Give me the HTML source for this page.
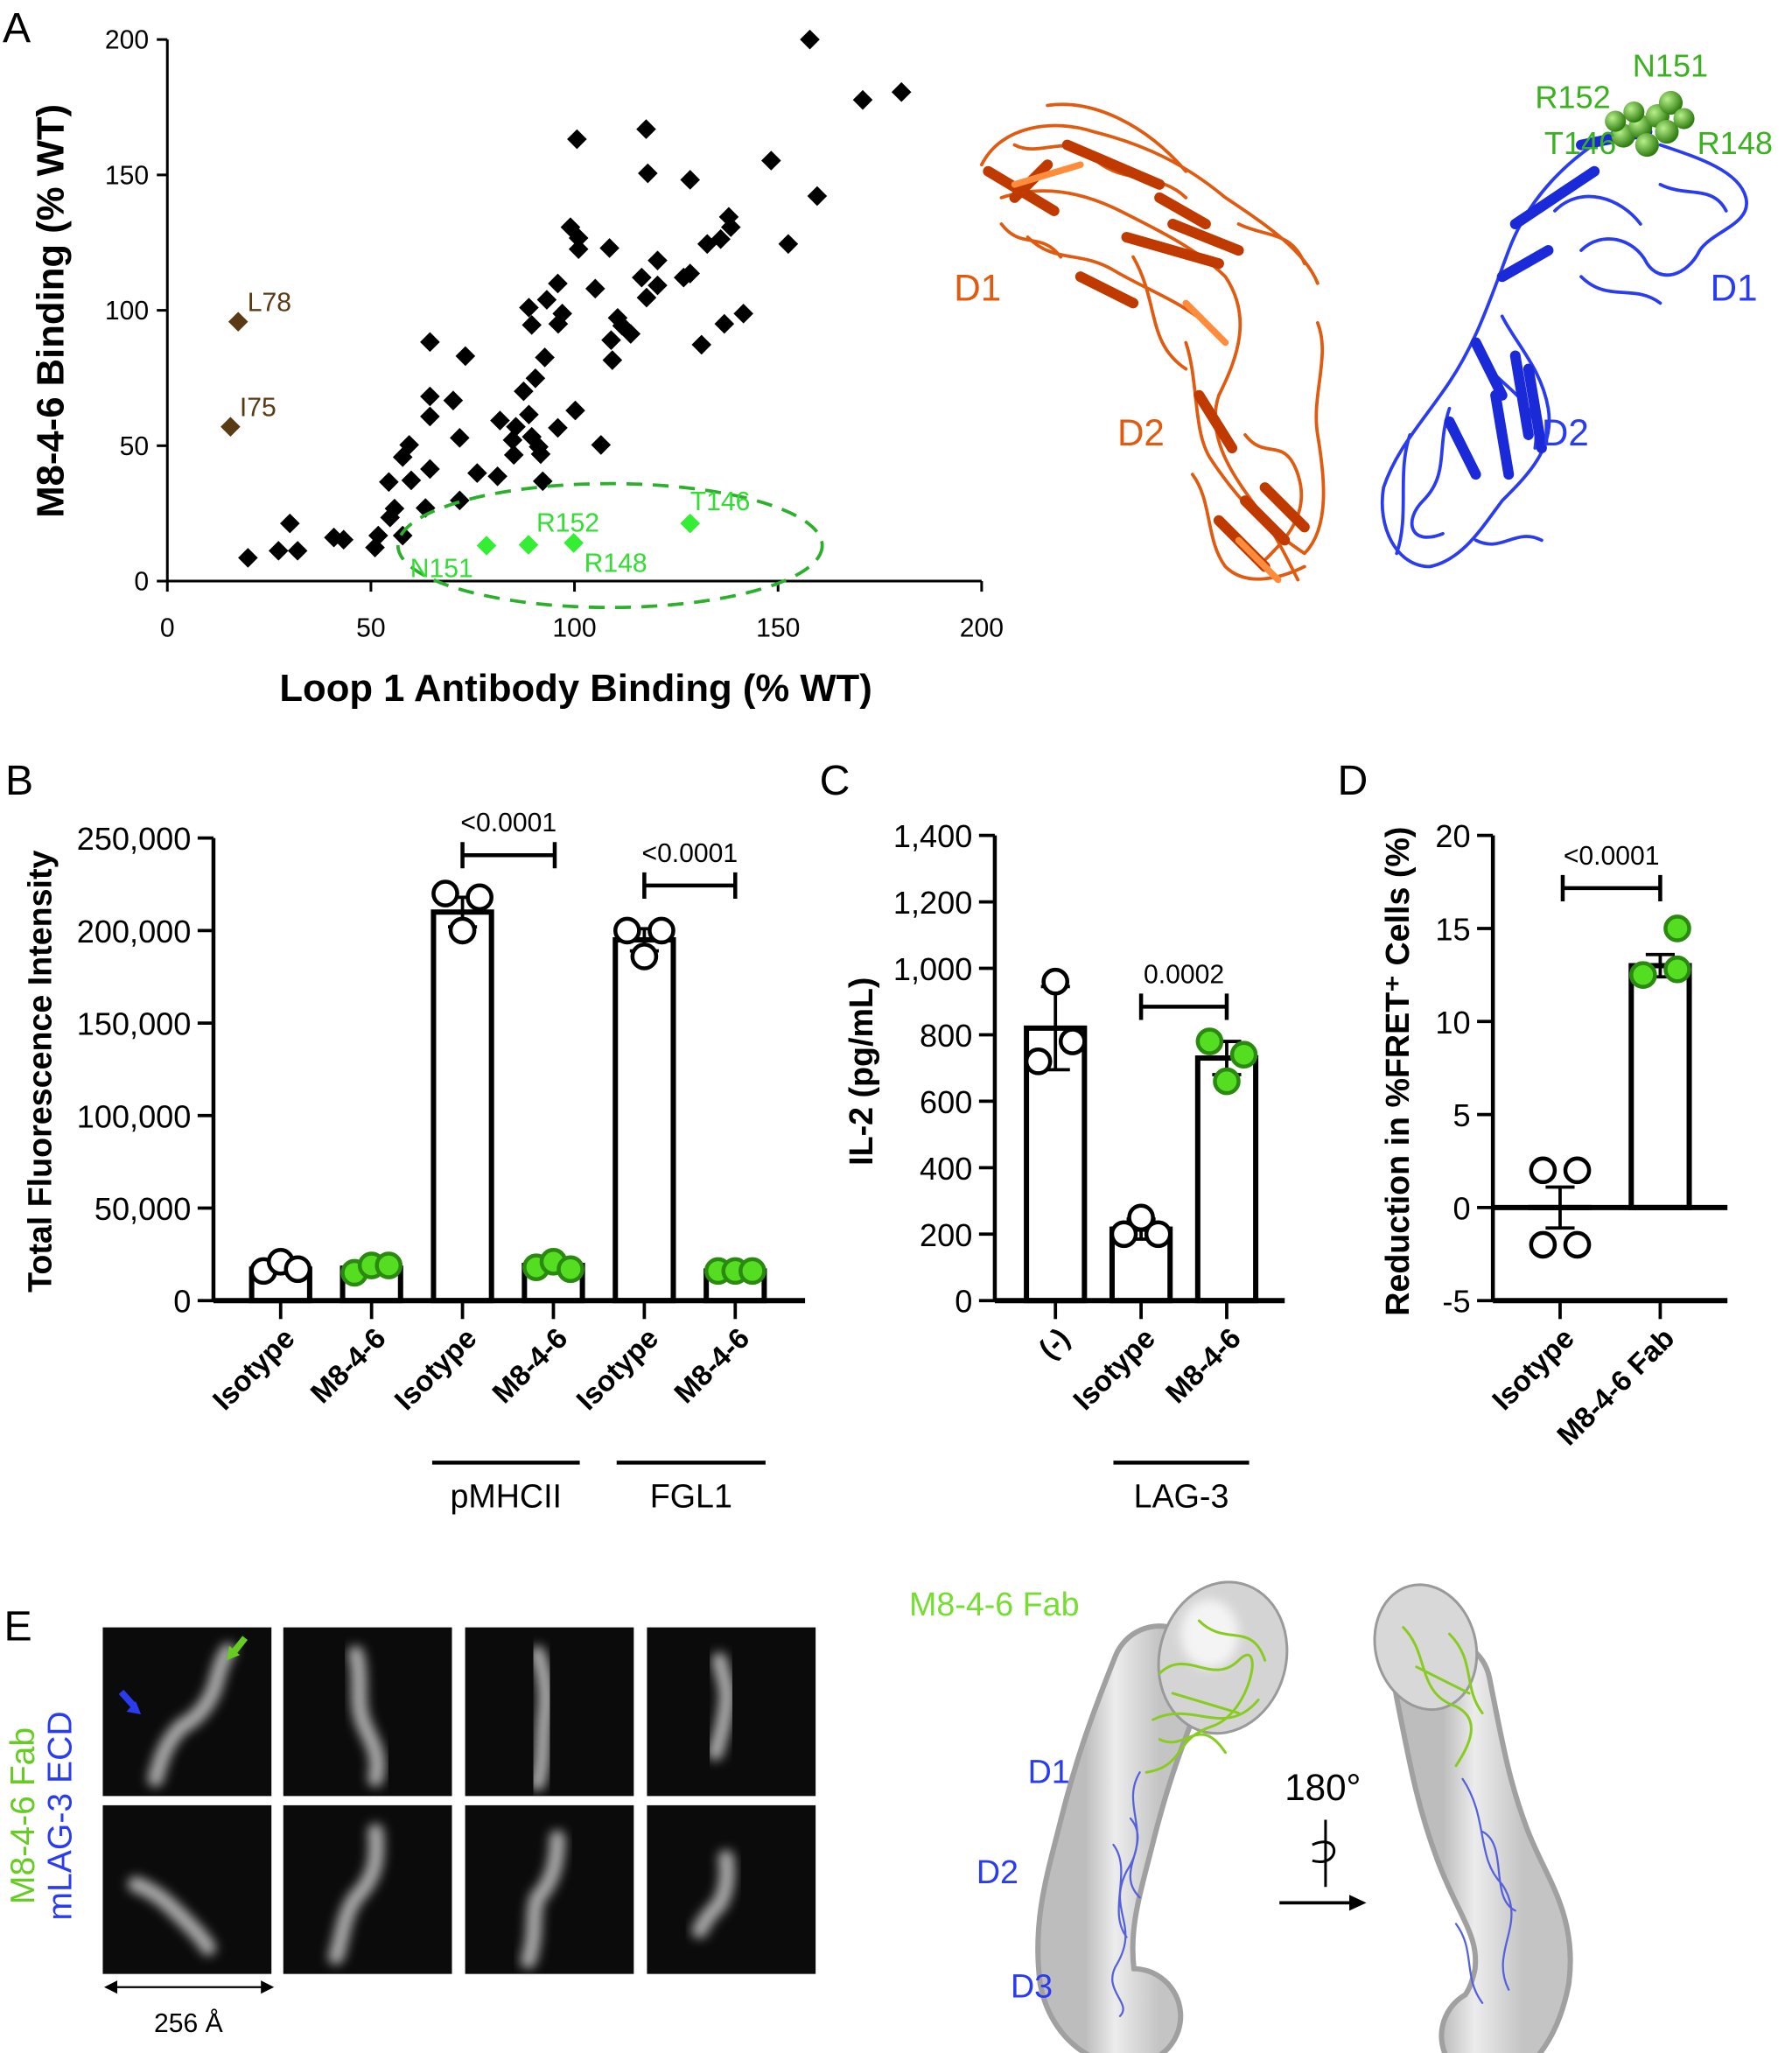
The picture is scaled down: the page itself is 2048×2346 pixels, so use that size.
<!DOCTYPE html>
<html><head><meta charset="utf-8"><style>
html,body{margin:0;padding:0;background:#fff;}
svg{display:block;font-family:"Liberation Sans",sans-serif;}
</style></head><body>
<svg id="fig" xmlns="http://www.w3.org/2000/svg" width="2048" height="2346" viewBox="0 0 1360 1558" preserveAspectRatio="none">
<defs>
<filter id="blur3" x="-50%" y="-50%" width="200%" height="200%"><feGaussianBlur stdDeviation="4"/></filter>
<filter id="blur2" x="-50%" y="-50%" width="200%" height="200%"><feGaussianBlur stdDeviation="2.5"/></filter>
<radialGradient id="sph" cx="35%" cy="35%" r="65%"><stop offset="0" stop-color="#b8f08a"/><stop offset="1" stop-color="#2f7d10"/></radialGradient>
<linearGradient id="mapg" x1="0" y1="0" x2="1" y2="0"><stop offset="0" stop-color="#bdbdbd"/><stop offset="0.4" stop-color="#ececec"/><stop offset="1" stop-color="#c4c4c4"/></linearGradient>
</defs>

<text x="2" y="32" font-size="32">A</text>
<text x="4" y="603" font-size="32">B</text>
<text x="622" y="603" font-size="32">C</text>
<text x="1015" y="603" font-size="32">D</text>
<text x="3" y="1245" font-size="32">E</text>

<g id="scatterA"></g>
<g id="barB"></g>
<g id="barC"></g>
<g id="barD"></g>

<!-- protein structures panel A -->
<g fill="none" stroke-linejoin="round" stroke-linecap="round">
<path d="M745,125 C760,95 800,90 830,100 C870,110 900,125 930,150 C960,170 990,190 1000,215 M760,150 C790,140 820,145 850,160 C880,175 910,190 930,210 C950,240 940,270 925,300 C915,330 935,360 950,380 C965,400 975,420 985,440 M780,180 C800,200 820,190 845,205 C870,220 900,230 920,250 M900,260 C910,290 905,330 920,350 C940,380 960,400 990,420 C1010,400 1005,360 1000,330 C995,300 1010,270 1000,245 M795,80 C830,75 870,95 900,130 M860,195 C880,230 870,260 900,280 M945,330 C960,350 975,330 985,360 C995,390 975,410 960,425 M770,110 C790,120 810,100 830,120 C850,140 880,130 900,150 M940,170 C960,180 980,175 990,200 M905,360 C920,380 915,410 930,430 C945,445 970,440 990,430 M760,170 C775,190 790,175 805,195" stroke="#e05a10" stroke-width="2.5"/>
<path d="M750,130 L800,160 M810,110 L880,140 M855,180 L925,200 M820,210 L860,230 M910,300 L935,340 M960,370 L990,400 M925,395 L960,430 M890,170 L940,190 M770,150 L795,125 M880,150 L915,170 M945,380 L975,410" stroke="#c03a00" stroke-width="8"/>
<path d="M770,140 L820,125 M900,230 L930,260 M940,410 L970,440" stroke="#ff8c3a" stroke-width="5"/>
</g>
<g fill="none" stroke-linejoin="round" stroke-linecap="round">
<path d="M1225,100 C1190,120 1160,150 1145,190 C1130,230 1120,260 1100,290 C1080,320 1060,340 1050,370 C1045,400 1060,430 1085,430 C1110,425 1125,400 1140,380 C1160,360 1180,340 1175,310 C1170,280 1150,260 1140,240 M1260,110 C1290,120 1320,130 1325,150 C1330,170 1300,175 1290,190 C1280,210 1260,215 1250,200 C1240,180 1215,175 1200,190 M1180,160 C1200,140 1230,150 1245,170 M1100,310 C1090,340 1100,360 1080,380 C1065,395 1070,415 1095,405 M1130,280 C1150,300 1170,310 1165,340 M1070,330 C1060,360 1070,390 1060,420 M1120,410 C1140,420 1150,400 1170,410 M1260,140 C1280,150 1300,140 1310,160 M1200,210 C1220,230 1240,215 1260,230" stroke="#2a3cf0" stroke-width="2.5"/>
<path d="M1150,170 L1210,130 M1140,210 L1175,190 M1120,260 L1140,300 M1150,270 L1160,330 M1135,300 L1145,360 M1100,320 L1120,360 M1200,110 L1250,100 M1160,280 L1170,340" stroke="#1a2ad8" stroke-width="8"/>
</g>
<g>
<circle cx="1232" cy="103" r="9" fill="url(#sph)"/><circle cx="1245" cy="96" r="9" fill="url(#sph)"/><circle cx="1258" cy="88" r="9" fill="url(#sph)"/><circle cx="1268" cy="78" r="9" fill="url(#sph)"/><circle cx="1250" cy="110" r="9" fill="url(#sph)"/><circle cx="1265" cy="100" r="9" fill="url(#sph)"/><circle cx="1278" cy="90" r="8" fill="url(#sph)"/><circle cx="1240" cy="85" r="8" fill="url(#sph)"/><circle cx="1226" cy="92" r="8" fill="url(#sph)"/>
</g>
<g font-size="28">
<text x="724" y="228" fill="#e05a10">D1</text>
<text x="848" y="338" fill="#e05a10">D2</text>
<text x="1298" y="228" fill="#2a3cf0">D1</text>
<text x="1170" y="338" fill="#2a3cf0">D2</text>
<g font-size="24" fill="#3bb020">
<text x="1239" y="58">N151</text>
<text x="1165" y="82">R152</text>
<text x="1172" y="117">T146</text>
<text x="1288" y="117">R148</text>
</g></g>

<!-- panel E -->
<g id="emgrid"></g>
<g font-size="26">
<text transform="translate(26,1378) rotate(-90)" text-anchor="middle" fill="#66cc22">M8-4-6 Fab</text>
<text transform="translate(54,1378) rotate(-90)" text-anchor="middle" fill="#2a3cf0">mLAG-3 ECD</text>
</g>
<g>
<line x1="82" y1="1508" x2="205" y2="1508" stroke="#000" stroke-width="1.5"/>
<path d="M79,1508 l10,-5 v10 z M208,1508 l-10,-5 v10 z" fill="#000"/>
<text x="143" y="1542" font-size="20" text-anchor="middle">256 Å</text>
</g>
<g>
<path d="M186,1243 L178,1253" stroke="#66cc22" stroke-width="5"/><path d="M172,1260 l2,-11 8,7 z" fill="#66cc22"/>
<path d="M92,1284 L101,1294" stroke="#2a3cf0" stroke-width="5"/><path d="M107,1301 l-11,-2 7,-8 z" fill="#2a3cf0"/>
</g>

<g>
<text x="690" y="1226" font-size="25" fill="#77dd33">M8-4-6 Fab</text>
<g fill="none" stroke-linecap="round">
<path d="M880,1270 C860,1320 850,1350 840,1390 C830,1430 820,1460 825,1500 C830,1525 850,1535 860,1530" stroke="#a0a0a0" stroke-width="76"/>
<path d="M880,1270 C860,1320 850,1350 840,1390 C830,1430 820,1460 825,1500 C830,1525 850,1535 860,1530" stroke="url(#mapg)" stroke-width="68"/>
<ellipse cx="928" cy="1258" rx="48" ry="58" transform="rotate(15 928 1258)" fill="#d4d4d4" stroke="#9a9a9a" stroke-width="2"/>
<ellipse cx="918" cy="1240" rx="22" ry="26" fill="#f4f4f4" filter="url(#blur3)"/>
<path d="M880,1270 C900,1250 920,1280 940,1260 C960,1240 950,1300 920,1310 C890,1320 900,1340 870,1345 M890,1285 L940,1300 M875,1305 C905,1290 930,1320 955,1290 M910,1230 C930,1250 950,1230 960,1260 M880,1320 C900,1330 910,1300 930,1330" stroke="#88cc22" stroke-width="2"/>
<path d="M865,1345 C850,1370 875,1390 855,1420 C840,1450 865,1460 848,1490 C835,1510 860,1520 850,1530 M858,1380 C875,1400 845,1420 865,1440 M845,1400 C860,1420 840,1450 855,1470" stroke="#5560dd" stroke-width="1.5"/>
</g>
<g fill="none" stroke-linecap="round">
<path d="M1095,1280 C1105,1330 1110,1360 1125,1400 C1140,1440 1160,1460 1155,1500 C1150,1525 1140,1540 1130,1545" stroke="#a0a0a0" stroke-width="76"/>
<path d="M1095,1280 C1105,1330 1110,1360 1125,1400 C1140,1440 1160,1460 1155,1500 C1150,1525 1140,1540 1130,1545" stroke="url(#mapg)" stroke-width="68"/>
<ellipse cx="1082" cy="1250" rx="38" ry="48" transform="rotate(-15 1082 1250)" fill="#d8d8d8" stroke="#9a9a9a" stroke-width="2"/>
<path d="M1065,1235 C1085,1255 1075,1285 1105,1295 C1125,1305 1115,1325 1105,1340 M1075,1265 L1115,1285 M1100,1240 C1120,1260 1110,1280 1125,1300" stroke="#88cc22" stroke-width="2"/>
<path d="M1110,1350 C1130,1380 1120,1410 1140,1430 C1160,1460 1130,1480 1145,1510 M1125,1390 C1145,1400 1130,1440 1150,1450 M1105,1460 C1120,1480 1110,1500 1125,1520" stroke="#5560dd" stroke-width="1.5"/>
</g>
<text x="975" y="1366" font-size="28">180°</text>
<path d="M1006,1381 V1432 M996,1400 C1018,1390 1018,1418 996,1412" stroke="#000" stroke-width="2" fill="none"/>
<line x1="971" y1="1444" x2="1024" y2="1444" stroke="#000" stroke-width="2.5"/>
<path d="M1037,1444 l-13,-6 v12 z" fill="#000"/>
<g font-size="25" fill="#2a3cf0">
<text x="780" y="1353">D1</text>
<text x="741" y="1429">D2</text>
<text x="767" y="1516">D3</text>
</g>
</g>
</svg>
<script>
// ===== Panel A data =====
const scatterX = [157.8,170.8,180.3,100.6,117.6,118,128.4,148.3,159.6,152.5,99,101,101,108.6,137.9,138.4,135.9,132.6,120.4,128.4,126.8,116.5,120.4,117.7,105.1,95.9,93.2,88.8,97,96,89.5,110.6,111.7,113.8,109,109.3,141.5,136.8,131.2,64.5,73.2,92.7,90.4,87.5,64.5,70.2,64.5,88.8,100.2,81.7,85.6,95.9,71.8,89.5,84.8,91.2,106.5,59.4,57.8,91.7,85.1,64.5,59.9,76.1,81.1,54.4,92.2,71.8,63.4,55.8,54.7,57.8,51.8,51,30.1,40.9,43.3,27.3,32,19.8];
const scatterY = [200,177.7,180.6,163.2,166.9,150.6,148.2,155.3,142.2,124.5,130.7,126.7,122.6,123,134.5,130.7,126.3,124.5,118.4,113.6,112.1,112.1,109.2,104.7,108,109.9,103.9,101,98.8,95,94.6,97.2,94.3,91.3,89,81.6,98.8,95,87.3,88.3,83.1,82.6,74.9,70.1,68.2,66.7,60.8,61.5,63,59.3,57,56.6,52.9,53.3,52.1,49.6,50.3,50.3,45.8,46.9,46.6,41.4,37.2,39.9,38.7,36.6,36.9,29.8,27,26.8,23.5,16.8,16.8,12.4,21.3,16.1,15.3,11.2,11.2,8.6];
const brownNames = ["L78","I75"];
const brownX = [17.4,15.5];
const brownY = [95.8,57];
const greenNames = ["N151","R152","R148","T146"];
const greenX = [78.4,88.7,99.8,128.4];
const greenY = [13.1,13.4,14.1,21.3];
const aTicks = [0,50,100,150,200];

// ===== Panel B data =====
const bCats = ["Isotype","M8-4-6","Isotype","M8-4-6","Isotype","M8-4-6"];
const bMeans = [17000,17500,210000,19000,195000,16000];
const bSem = [2000,1500,8000,1500,6000,500];
const bPts = [[16000,21000,17000],[15000,19000,19000],[220000,200000,218000],[18000,21000,17000],[200000,186000,200000],[16000,16000,16000]];
const bTicks = [0,50000,100000,150000,200000,250000];
const bTickLabels = ["0","50,000","100,000","150,000","200,000","250,000"];

// ===== Panel C data =====
const cCats = ["(-)","Isotype","M8-4-6"];
const cMeans = [820,215,730];
const cSem = [125,30,50];
const cPts = [[720,960,780],[200,250,200],[780,660,740]];
const cTicks = [0,200,400,600,800,1000,1200,1400];
const cTickLabels = ["0","200","400","600","800","1,000","1,200","1,400"];

// ===== Panel D data =====
const dCats = ["Isotype","M8-4-6 Fab"];
const dMeans = [0,13];
const dSem = [1.1,0.6];
const dPts = [[2,2,-2,-2],[12.5,15,12.5,12.8]];
const dTicks = [-5,0,5,10,15,20];
const dTickLabels = ["-5","0","5","10","15","20"];

const NS = "http://www.w3.org/2000/svg";
function mk(parent, tag, attrs, txt){
  const e = document.createElementNS(NS, tag);
  for (const k in attrs) e.setAttribute(k, attrs[k]);
  if (txt !== undefined) e.textContent = txt;
  parent.appendChild(e);
  return e;
}

// ---------- Panel A ----------
(function(){
  const g = document.getElementById("scatterA");
  const x0=127, x1=745, y0=441, y1=30;
  const sx = v => x0 + (v/200)*(x1-x0);
  const sy = v => y0 - (v/200)*(y0-y1);
  let ax = mk(g,"path",{d:`M${x0},${y1} V${y0} H${x1}`,stroke:"#000","stroke-width":2,fill:"none"});
  
  
  aTicks.forEach(t=>{
    mk(g,"line",{x1:x0-8,x2:x0,y1:sy(t),y2:sy(t),stroke:"#000","stroke-width":2});
    mk(g,"line",{x1:sx(t),x2:sx(t),y1:y0,y2:y0+8,stroke:"#000","stroke-width":2});
    let ty = mk(g,"text",{x:x0-14,y:sy(t)+7,"font-size":20,"text-anchor":"end"},String(t));
    
    
    let tx = mk(g,"text",{x:sx(t),y:y0+42,"font-size":20,"text-anchor":"middle"},String(t));
    
    
  });
  let yt = mk(g,"text",{transform:`translate(48,236) rotate(-90)`,"font-size":29,"font-weight":"bold","text-anchor":"middle"},"M8-4-6 Binding (% WT)");
  
  
  let xt = mk(g,"text",{x:437,y:532,"font-size":29,"font-weight":"bold","text-anchor":"middle"},"Loop 1 Antibody Binding (% WT)");
  
  
  const dia = (x,y,r)=>`M${x},${y-r} L${x+r},${y} L${x},${y+r} L${x-r},${y} Z`;
  scatterX.forEach((v,i)=>{
    let p = mk(g,"path",{d:dia(sx(v),sy(scatterY[i]),7.5),fill:"#000"});
    
    
  });
  let el = mk(g,"ellipse",{cx:463,cy:414,rx:161,ry:47,fill:"none",stroke:"#2bb02b","stroke-width":2.5,"stroke-dasharray":"12 8"});
  
  
  brownX.forEach((v,i)=>{
    let p = mk(g,"path",{d:dia(sx(v),sy(brownY[i]),7.5),fill:"#5a3a14"});
    
    
    let t = mk(g,"text",{x:sx(v)+7,y:sy(brownY[i])-8,"font-size":20,fill:"#5a3a14"},brownNames[i]);
    
    
  });
  const gOff = [[-58,24],[6,-10],[8,22],[0,-10]];
  greenX.forEach((v,i)=>{
    let p = mk(g,"path",{d:dia(sx(v),sy(greenY[i]),7.5),fill:"#33ee33"});
    
    
    let t = mk(g,"text",{x:sx(v)+gOff[i][0],y:sy(greenY[i])+gOff[i][1],"font-size":20,fill:"#33dd33"},greenNames[i]);
    
    
  });
})();

// ---------- bar chart helper ----------
function barChart(gid, opt){
  const g = document.getElementById(gid);
  const {ax, yTop, yBot, vMin, vMax, xEnd, cats, centers, means, sem, pts, ticks, tickLabels, colors, zeroLine} = opt;
  const sy = v => yBot - (v - vMin)/(vMax - vMin)*(yBot - yTop);
  const base = zeroLine ? sy(0) : yBot;
  means.forEach((m,i)=>{
    const cx = centers[i], w = 44;
    const top = Math.min(sy(m), base), h = Math.abs(sy(m)-base);
    let r = mk(g,"rect",{x:cx-w/2,y:top,width:w,height:Math.max(h,0.01),fill:"#fff",stroke:"#000","stroke-width":4});
    
    
    mk(g,"path",{d:`M${cx},${sy(m-sem[i])} V${sy(m+sem[i])} M${cx-11},${sy(m+sem[i])} H${cx+11} M${cx-11},${sy(m-sem[i])} H${cx+11}`,stroke:"#000","stroke-width":2.5,fill:"none"});
    const n = pts[i].length;
    pts[i].forEach((v,j)=>{
      const off = n===4 ? [-13,13,-13,13][j] : [-13,0,13][j];
      let c = mk(g,"circle",{cx:cx+off,cy:sy(v),r:9,fill:colors[i],stroke:colors[i]==="#fff"?"#000":"#2a8a10","stroke-width":3});
      
      
    });
    mk(g,"line",{x1:cx,x2:cx,y1:yBot,y2:yBot+14,stroke:"#000","stroke-width":2.5});
    let t = mk(g,"text",{transform:`translate(${cx+12},${yBot+30}) rotate(-45)`,"font-size":22,"font-weight":"bold","text-anchor":"end"},cats[i]);
    
    
  });
  mk(g,"line",{x1:ax,x2:ax,y1:yTop,y2:yBot,stroke:"#000","stroke-width":3});
  mk(g,"line",{x1:ax,x2:xEnd,y1:base,y2:base,stroke:"#000","stroke-width":4});
  if (zeroLine) mk(g,"line",{x1:ax,x2:xEnd,y1:yBot,y2:yBot,stroke:"#000","stroke-width":4});
  ticks.forEach((t,i)=>{
    mk(g,"line",{x1:ax-12,x2:ax,y1:sy(t),y2:sy(t),stroke:"#000","stroke-width":2.5});
    let l = mk(g,"text",{x:ax-17,y:sy(t)+9,"font-size":24,"text-anchor":"end"},tickLabels[i]);
    
    
  });
  return sy;
}
function bracket(g, x1, x2, y, label){
  mk(g,"path",{d:`M${x1},${y-10} V${y+10} M${x1},${y} H${x2} M${x2},${y-10} V${y+10}`,stroke:"#000","stroke-width":3,fill:"none"});
  let t = mk(g,"text",{x:(x1+x2)/2,y:y-18,"font-size":20,"text-anchor":"middle"},label);
  
  
}
function groupLine(g, x1, x2, y, label){
  mk(g,"line",{x1:x1,x2:x2,y1:y,y2:y,stroke:"#000","stroke-width":3});
  let t = mk(g,"text",{x:(x1+x2)/2,y:y+34,"font-size":25,"text-anchor":"middle"},label);
  
  
}

// Panel B
(function(){
  const g = document.getElementById("barB");
  barChart("barB",{ax:162,yTop:636,yBot:987,vMin:0,vMax:250000,xEnd:611,cats:bCats,centers:[213,282,351,420,489,558],means:bMeans,sem:bSem,pts:bPts,ticks:bTicks,tickLabels:bTickLabels,colors:["#fff","#55dd22","#fff","#55dd22","#fff","#55dd22"]});
  bracket(g,351,421,649,"<0.0001");
  bracket(g,489,558,672,"<0.0001");
  groupLine(g,328,440,1110,"pMHCII");
  groupLine(g,468,581,1110,"FGL1");
  let t = mk(g,"text",{transform:"translate(39,813) rotate(-90)","font-size":25,"font-weight":"bold","text-anchor":"middle"},"Total Fluorescence Intensity");
  
  
})();
// Panel C
(function(){
  const g = document.getElementById("barC");
  barChart("barC",{ax:755,yTop:634,yBot:987,vMin:0,vMax:1400,xEnd:975,cats:cCats,centers:[801,866,931],means:cMeans,sem:cSem,pts:cPts,ticks:cTicks,tickLabels:cTickLabels,colors:["#fff","#fff","#55dd22"]});
  bracket(g,866,931,764,"0.0002");
  groupLine(g,845,948,1110,"LAG-3");
  let t = mk(g,"text",{transform:"translate(662,813) rotate(-90)","font-size":25,"font-weight":"bold","text-anchor":"middle"},"IL-2 (pg/mL)");
  
  
})();
// Panel D
(function(){
  const g = document.getElementById("barD");
  barChart("barD",{ax:1133,yTop:634,yBot:987,vMin:-5,vMax:20,xEnd:1311,cats:dCats,centers:[1184,1260],means:dMeans,sem:dSem,pts:dPts,ticks:dTicks,tickLabels:dTickLabels,colors:["#fff","#55dd22"],zeroLine:true});
  bracket(g,1186,1260,674,"<0.0001");
  let t = mk(g,"text",{transform:"translate(1069,813) rotate(-90)","font-size":25,"font-weight":"bold","text-anchor":"middle"},"Reduction in %FRET\u207A Cells (%)");
  
  
})();

// Panel E EM grid
(function(){
  const g = document.getElementById("emgrid");
  const xs = [78,215,353,491], ys = [1235,1370], w = 128, h = 128;
  const blobs = [
    ["M60,75 C70,70 80,60 85,45 C88,35 90,25 95,18 M60,75 C50,85 45,95 40,115", "M55,20 C60,40 55,55 60,70 C65,85 75,95 70,115", "M55,20 C62,40 62,55 60,70 C58,90 60,100 55,118", "M55,25 C58,40 62,45 60,60 C58,75 55,85 52,95"],
    ["M25,60 C40,65 50,75 60,85 C70,95 75,100 80,108", "M70,20 C72,40 70,55 55,70 C45,85 45,100 40,115", "M70,25 C70,45 65,60 55,70 C50,85 55,95 48,118", "M60,40 C62,55 60,65 55,75 C50,80 45,85 40,95"]
  ];
  ys.forEach((y,r)=>xs.forEach((x,c)=>{
    let rc = mk(g,"rect",{x:x,y:y,width:w,height:h,fill:"#0b0b0b"});
    
    
    mk(g,"path",{d:blobs[r][c],transform:`translate(${x},${y})`,stroke:"#a8a8a8","stroke-width":12,fill:"none","stroke-linecap":"round",filter:"url(#blur3)"});
  }));
})();
</script>
</body></html>
